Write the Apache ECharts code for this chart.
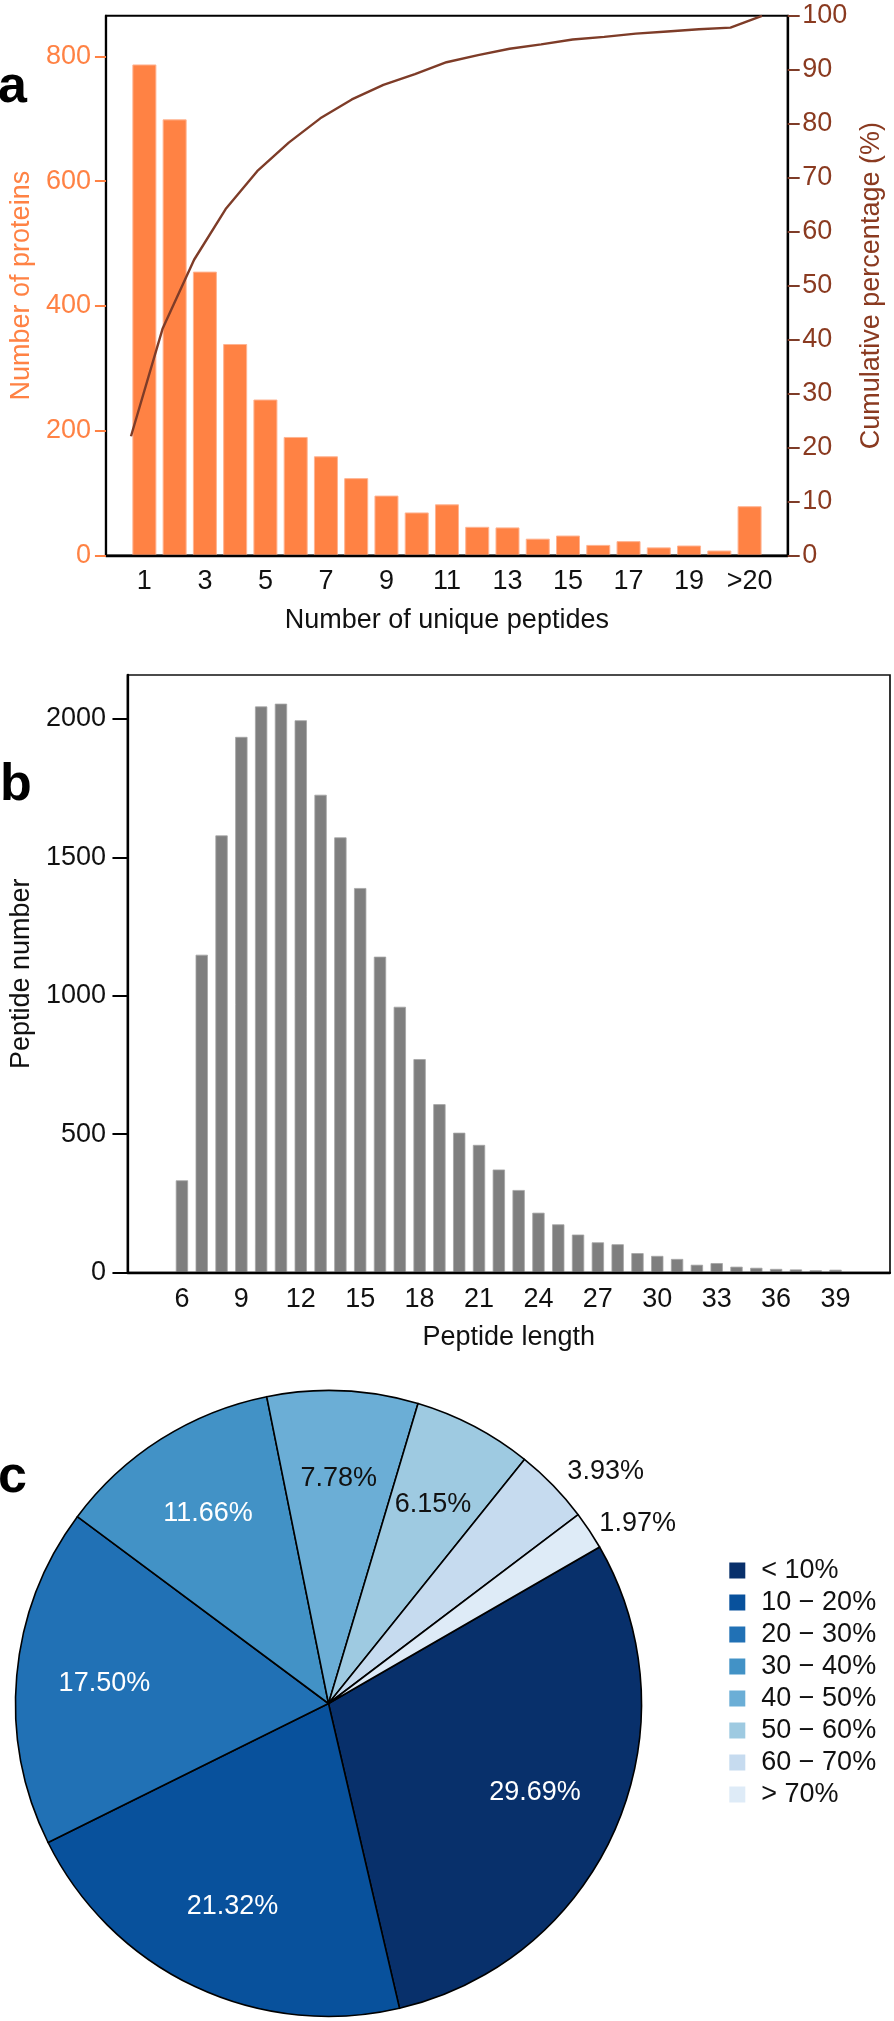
<!DOCTYPE html>
<html>
<head>
<meta charset="utf-8">
<title>Peptide statistics</title>
<script src="https://cdn.jsdelivr.net/npm/echarts@6/dist/echarts.min.js"></script>
<style>
  html, body { margin: 0; padding: 0; background: #fff; }
  #chart { width: 894px; height: 2021px; }
</style>
</head>
<body>
<div id="chart"></div>
<script>
// ---- panel a: proteins vs number of unique peptides ----
const peptideCounts = ['1', '2', '3', '4', '5', '6', '7', '8', '9', '10', '11', '12', '13', '14', '15', '16', '17', '18', '19', '20', '>20'];
const proteinNumbers = [787, 699, 455, 339, 250, 190, 159, 124, 96, 69, 82, 46, 45, 27, 32, 17, 23, 13, 16, 8, 79];
const cumulativePct = [22.1, 42.0, 54.8, 64.2, 71.2, 76.5, 81.0, 84.5, 87.2, 89.2, 91.4, 92.7, 93.9, 94.7, 95.6, 96.1, 96.7, 97.1, 97.5, 97.8, 100];
const proteinTicks = [0, 200, 400, 600, 800];
const countLabelTicks = [1, 3, 5, 7, 9, 11, 13, 15, 17, 19, 21];

// ---- panel b: peptide length distribution ----
const peptideLengths = [6, 7, 8, 9, 10, 11, 12, 13, 14, 15, 16, 17, 18, 19, 20, 21, 22, 23, 24, 25, 26, 27, 28, 29, 30, 31, 32, 33, 34, 35, 36, 37, 38, 39];
const peptideNumbers = [333, 1148, 1579, 1935, 2045, 2055, 1995, 1726, 1572, 1389, 1141, 960, 771, 608, 505, 461, 372, 298, 216, 174, 137, 109, 102, 70, 60, 49, 28, 34, 21, 17, 13, 11, 8, 10];
const peptideTicks = [0, 500, 1000, 1500, 2000];
const lengthLabelTicks = [6, 9, 12, 15, 18, 21, 24, 27, 30, 33, 36, 39];

// ---- panel c: sequence coverage ----
const coverageBins = ['< 10%', '10 \u2212 20%', '20 \u2212 30%', '30 \u2212 40%', '40 \u2212 50%', '50 \u2212 60%', '60 \u2212 70%', '> 70%'];
const coveragePct = [29.69, 21.32, 17.50, 11.66, 7.78, 6.15, 3.93, 1.97];
const blues = ['#08306B', '#08519C', '#2171B5', '#4292C6', '#6BAED6', '#9ECAE1', '#C6DBEF', '#DEEBF7'];
const labelColors = ['#fff', '#fff', '#fff', '#fff', '#111', '#111', '#111', '#111'];

const FONT = '"Liberation Sans", Arial, sans-serif';
const ORANGE = '#FF8244';
const BROWN = '#7E3C28';

const chart = echarts.init(document.getElementById('chart'));

const pieData = coverageBins.map((name, i) => ({
    name: name,
    value: coveragePct[i],
    itemStyle: { color: blues[i] }
}));

// transparent copy of the pie that only carries the labels
const labelData = coverageBins.map((name, i) => {
    const item = { name: name, value: coveragePct[i], label: { color: labelColors[i] } };
    if (i === 6) {
        item.label.position = 'outside';
        item.labelLine = { length: 20, length2: 0 };
    }
    if (i === 7) {
        item.label.position = 'outside';
        item.labelLine = { length: 12, length2: 0 };
    }
    return item;
});

const plain = v => String(v);

const option = {
    backgroundColor: '#fff',
    animation: false,
    textStyle: { fontFamily: FONT },
    grid: [
        { left: 105.3, top: 15.8, width: 682.4, height: 539.7, show: true, borderColor: '#000', borderWidth: 2 },
        { left: 131, top: 15.8, width: 631, height: 539.7 },
        { left: 126, top: 675, width: 764, height: 597.5, show: true, borderColor: '#111', borderWidth: 1.7 }
    ],
    xAxis: [
        {
            gridIndex: 0, type: 'value', min: -0.27, max: 22.26, z: 10,
            axisLine: { show: true, onZero: false, lineStyle: { color: '#000', width: 2.3 } },
            axisTick: { show: false },
            splitLine: { show: false },
            axisLabel: {
                customValues: countLabelTicks,
                formatter: v => peptideCounts[v - 1],
                color: '#111', fontSize: 27, margin: 12.5
            },
            name: 'Number of unique peptides', nameLocation: 'middle', nameGap: 52,
            nameTextStyle: { color: '#111', fontSize: 27 }
        },
        { gridIndex: 1, type: 'category', boundaryGap: false, data: peptideCounts, show: false },
        {
            gridIndex: 2, type: 'value', min: 3.25, max: 41.75, z: 10,
            axisLine: { show: true, onZero: false, lineStyle: { color: '#000', width: 2.3 } },
            axisTick: { show: false },
            splitLine: { show: false },
            axisLabel: { customValues: lengthLabelTicks, formatter: plain, color: '#111', fontSize: 27, margin: 13.8 },
            name: 'Peptide length', nameLocation: 'middle', nameGap: 52,
            nameTextStyle: { color: '#111', fontSize: 27 }
        }
    ],
    yAxis: [
        {
            gridIndex: 0, type: 'value', position: 'left', min: 0, max: 865, z: 10,
            axisLine: { show: true, onZero: false, lineStyle: { color: '#000', width: 2.3 } },
            axisTick: { show: true, customValues: proteinTicks, length: 11, lineStyle: { color: ORANGE, width: 2 } },
            axisLabel: { customValues: proteinTicks, formatter: plain, color: ORANGE, fontSize: 27, margin: 15 },
            splitLine: { show: false },
            name: 'Number of proteins', nameLocation: 'middle', nameRotate: 90, nameGap: 70,
            nameTextStyle: { color: ORANGE, fontSize: 27 }
        },
        {
            gridIndex: 0, type: 'value', position: 'right', min: 0, max: 100, interval: 10, z: 10,
            axisLine: { show: true, onZero: false, lineStyle: { color: '#000', width: 2.3 } },
            axisTick: { show: true, length: 12, lineStyle: { color: BROWN, width: 2 } },
            axisLabel: { formatter: plain, color: '#8A3A20', fontSize: 27, margin: 14.5 },
            splitLine: { show: false },
            name: 'Cumulative percentage (%)', nameLocation: 'middle', nameRotate: 90, nameGap: 66,
            nameTextStyle: { color: '#8A3A20', fontSize: 27 }
        },
        { gridIndex: 1, type: 'value', min: 0, max: 100, show: false },
        {
            gridIndex: 2, type: 'value', min: 0, max: 2158.6, z: 10,
            axisLine: { show: true, onZero: false, lineStyle: { color: '#000', width: 2.3 } },
            axisTick: { show: true, customValues: peptideTicks, length: 15, lineStyle: { color: '#000', width: 2 } },
            axisLabel: { customValues: peptideTicks, formatter: plain, color: '#111', fontSize: 27, margin: 21.5 },
            splitLine: { show: false },
            name: 'Peptide number', nameLocation: 'middle', nameRotate: 90, nameGap: 90,
            nameTextStyle: { color: '#111', fontSize: 27 }
        }
    ],
    legend: {
        orient: 'vertical', left: 729.3, top: 1557, padding: 0,
        itemWidth: 16, itemHeight: 16, itemGap: 5, icon: 'rect',
        selectedMode: false,
        data: coverageBins,
        itemStyle: { borderWidth: 0 },
        textStyle: { fontSize: 27, color: '#111', padding: [0, 0, 0, 11] }
    },
    graphic: [
        { type: 'text', left: -2, top: 62, style: { text: 'a', font: 'bold 52px ' + FONT, fill: '#000' } },
        { type: 'text', left: 0, top: 760, style: { text: 'b', font: 'bold 52px ' + FONT, fill: '#000' } },
        { type: 'text', left: -2, top: 1452, style: { text: 'c', font: 'bold 52px ' + FONT, fill: '#000' } }
    ],
    series: [
        {
            type: 'bar', xAxisIndex: 0, yAxisIndex: 0, barWidth: 24, silent: true,
            data: proteinNumbers.map((v, i) => [i + 1, v]),
            itemStyle: { color: ORANGE, borderColor: '#FFB391', borderWidth: 1 }
        },
        {
            type: 'line', xAxisIndex: 1, yAxisIndex: 2, z: 3, symbol: 'none', silent: true,
            data: cumulativePct,
            lineStyle: { color: BROWN, width: 2.4 }
        },
        {
            type: 'bar', xAxisIndex: 2, yAxisIndex: 3, barWidth: 12.3, silent: true,
            data: peptideNumbers.map((v, i) => [peptideLengths[i], v]),
            itemStyle: { color: '#7F7F7F', borderColor: '#A5A5A5', borderWidth: 0.8 }
        },
        {
            type: 'pie', center: [328.5, 1703.5], radius: 313, startAngle: 30, silent: true,
            data: pieData,
            label: { show: false }, labelLine: { show: false },
            itemStyle: { borderColor: '#000', borderWidth: 1.6 }
        },
        {
            type: 'pie', center: [328.5, 1703.5], radius: [131, 313], startAngle: 30, silent: true,
            avoidLabelOverlap: false,
            data: labelData,
            itemStyle: { color: 'rgba(0,0,0,0)', borderWidth: 0 },
            label: {
                show: true, position: 'inside', fontSize: 27, distanceToLabelLine: 0,
                formatter: p => p.value.toFixed(2) + '%'
            },
            labelLine: { show: false }
        }
    ]
};

chart.setOption(option);
</script>
</body>
</html>
